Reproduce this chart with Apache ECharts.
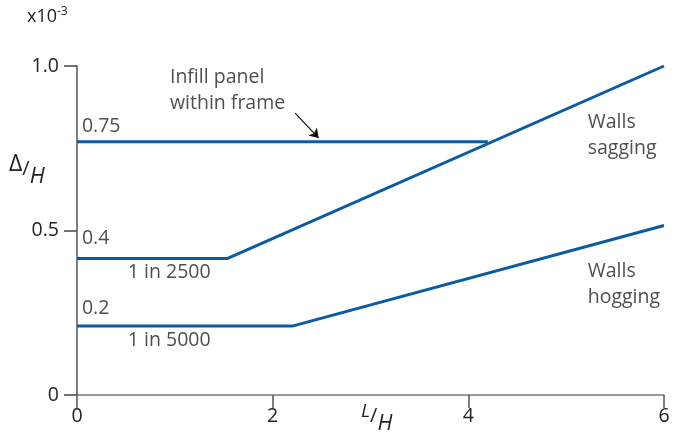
<!DOCTYPE html>
<html>
<head>
<meta charset="utf-8">
<script src="https://cdn.jsdelivr.net/npm/echarts@6/dist/echarts.min.js"></script>
<style>html,body{margin:0;padding:0;background:#fff}#c{width:674px;height:436px}</style>
</head>
<body>
<div id="c"></div>
<script>
// Data (x in L/H, y in Δ/H ×10^-3)
var xTicks = [0, 2, 4, 6];
var yTicks = [0, 0.5, 1.0];
var yTickLabels = ['0', '0.5', '1.0'];
var infillX = [0, 4.2];
var infillY = [0.77, 0.77];
var saggingX = [0, 1.54, 6];
var saggingY = [0.415, 0.415, 1.0];
var hoggingX = [0, 2.21, 6];
var hoggingY = [0.21, 0.21, 0.515];
var annotTexts = ['0.75', '0.4', '0.2', '1 in 2500', '1 in 5000', 'Infill panel\nwithin frame', 'Walls\nsagging', 'Walls\nhogging'];
var annotX = [0.05, 0.05, 0.05, 0.52, 0.52, 0.95, 5.22, 5.22];
var annotY = [0.815, 0.477, 0.264, 0.374, 0.167, 0.927, 0.79, 0.337];
var arrowFrom = [2.23, 0.857];
var arrowTo = [2.47, 0.781];

function pairs(xs, ys) { return xs.map(function (x, i) { return [x, ys[i]]; }); }

var FONT = 'Open Sans';
var FS = 19.5;
var lineColor = '#0b5aa2';
var chart = echarts.init(document.getElementById('c'), null, { renderer: 'canvas' });
var lineBase = { type: 'line', symbol: 'none', lineStyle: { color: lineColor, width: 3 }, silent: true, z: 3 };

chart.setOption({
  animation: false,
  backgroundColor: '#fff',
  grid: { left: 77, right: 10, top: 66, bottom: 41, containLabel: false, outerBoundsMode: 'none' },
  xAxis: {
    type: 'value', min: 0, max: 6, interval: 2,
    axisLine: { lineStyle: { color: '#777', width: 1.5 } },
    axisTick: { show: true, inside: false, length: 13, lineStyle: { color: '#555', width: 1.5 } },
    splitLine: { show: false },
    axisLabel: { margin: 11, color: '#222', fontFamily: FONT, fontSize: FS,
      formatter: function (v) { return xTicks.indexOf(v) >= 0 ? String(v) : ''; } }
  },
  yAxis: {
    type: 'value', min: 0, max: 1.0, interval: 0.5,
    axisLine: { show: true, lineStyle: { color: '#555', width: 1.5 } },
    axisTick: { show: true, inside: false, length: 13, lineStyle: { color: '#444', width: 1.5 } },
    splitLine: { show: false },
    axisLabel: { margin: 18, color: '#222', fontFamily: FONT, fontSize: FS,
      formatter: function (v) { var i = yTicks.indexOf(+v.toFixed(2)); return i >= 0 ? yTickLabels[i] : ''; } }
  },
  graphic: [
    { type: 'text', left: 27, top: 6, style: { text: '{a|x10}{b|-3}', rich: {
      a: { fontFamily: FONT, fontSize: 18, fill: '#222' },
      b: { fontFamily: FONT, fontSize: 12, fill: '#222', padding: [0, 0, 10, 0] } } } },
    { type: 'text', left: 9, top: 153, style: { text: '{d|Δ}{s|/}{h|H}', rich: {
      d: { fontFamily: FONT, fontSize: 23, fill: '#222', padding: [0, 0, 10, 0] },
      s: { fontFamily: FONT, fontSize: 20, fill: '#222' },
      h: { fontFamily: FONT, fontStyle: 'italic', fontSize: 22, fill: '#222', padding: [14, 0, 0, 0] } } } },
    { type: 'text', left: 361, top: 402, style: { text: '{l|L}{s|/}{h|H}', rich: {
      l: { fontFamily: FONT, fontStyle: 'italic', fontSize: 19, fill: '#222', padding: [0, 0, 10, 0] },
      s: { fontFamily: FONT, fontSize: 20, fill: '#222' },
      h: { fontFamily: FONT, fontStyle: 'italic', fontSize: 22, fill: '#222', padding: [14, 0, 0, 0] } } } }
  ],
  series: [
    Object.assign({}, lineBase, { name: 'Infill', data: pairs(infillX, infillY) }),
    Object.assign({}, lineBase, { name: 'Sagging', data: pairs(saggingX, saggingY) }),
    Object.assign({}, lineBase, { name: 'Hogging', data: pairs(hoggingX, hoggingY),
      markLine: {
        silent: true, animation: false,
        symbol: ['none', 'arrow'], symbolSize: 9,
        lineStyle: { color: '#111', width: 1.2, type: 'solid' },
        label: { show: false },
        data: [[{ coord: arrowFrom }, { coord: arrowTo }]]
      } }),
    {
      type: 'scatter', symbolSize: 0, silent: true, clip: false, z: 5,
      data: annotTexts.map(function (t, i) { return { value: [annotX[i], annotY[i]], name: t }; }),
      label: { show: true, position: 'inside', align: 'left', verticalAlign: 'middle',
        formatter: function (p) { return p.name; },
        fontFamily: FONT, fontSize: FS, color: '#222', lineHeight: 26 }
    }
  ]
});
</script>
</body>
</html>
